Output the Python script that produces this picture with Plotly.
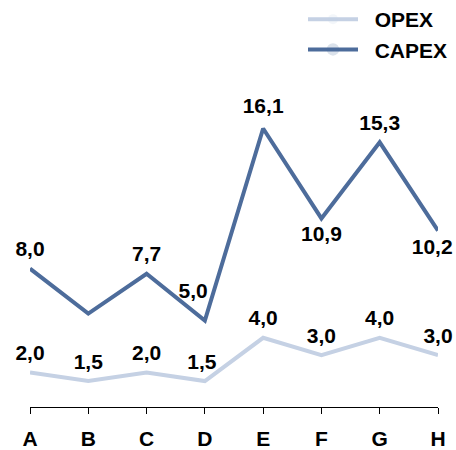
import plotly.graph_objects as go

categories = ["A", "B", "C", "D", "E", "F", "G", "H"]
opex = [2.0, 1.5, 2.0, 1.5, 4.0, 3.0, 4.0, 3.0]
capex = [8.0, 5.4, 7.7, 5.0, 16.1, 10.9, 15.3, 10.2]
capex_show_label = [True, False, True, True, True, True, True, True]
capex_label_pos = ["top center", "top center", "top center", "top center",
                   "top center", "bottom center", "top center", "bottom center"]
# trailing non-breaking spaces nudge a centred label to the left
opex_label_pad = [0, 0, 0, 1, 0, 0, 0, 0]
capex_label_pad = [0, 0, 0, 4, 0, 0, 0, 2]

NBSP = "\u00a0"

def fmt(v, pad=0):
    return f"{v:.1f}".replace(".", ",") + NBSP * pad

opex_text = [fmt(v, p) for v, p in zip(opex, opex_label_pad)]
capex_text = [fmt(v, p) if s else "" for v, s, p in zip(capex, capex_show_label, capex_label_pad)]

FONT = "Liberation Sans, Arial, sans-serif"
FS = 21

# invisible markers only used to space the value labels from the line
opex_msize = [10] * 8
capex_msize = [10, 10, 10, 26, 14, 10, 10, 10]

fig = go.Figure()
fig.add_trace(go.Scatter(
    x=categories, y=opex, name=NBSP * 2 + "OPEX", mode="lines+markers+text",
    line=dict(color="#C5D1E4", width=4),
    marker=dict(size=opex_msize, opacity=0, line=dict(width=0)),
    text=opex_text, textposition="top center",
    textfont=dict(family=FONT, size=FS, color="black", weight="bold"),
    cliponaxis=False,
))
fig.add_trace(go.Scatter(
    x=categories, y=capex, name=NBSP * 2 + "CAPEX", mode="lines+markers+text",
    line=dict(color="#4D6C9B", width=4),
    marker=dict(size=capex_msize, opacity=0, line=dict(width=0)),
    text=capex_text, textposition=capex_label_pos,
    textfont=dict(family=FONT, size=FS, color="black", weight="bold"),
    cliponaxis=False,
))

fig.update_layout(
    width=456, height=450,
    margin=dict(l=30, r=18, t=61, b=43, autoexpand=False),
    paper_bgcolor="white", plot_bgcolor="white",
    font=dict(family=FONT, size=FS, color="black"),
    legend=dict(
        xref="container", yref="paper",
        x=303 / 456, y=1 + 62 / 346, xanchor="left", yanchor="top",
        font=dict(family=FONT, size=FS, color="black", weight="bold"),
        itemwidth=50, bgcolor="rgba(0,0,0,0)",
        tracegroupgap=0,
    ),
    xaxis=dict(
        type="category", range=[0, 7], showgrid=False, zeroline=False,
        showline=True, linecolor="black", linewidth=1,
        ticks="outside", ticklen=6, tickcolor="black", tickwidth=1,
        ticklabelstandoff=7,
        tickfont=dict(family=FONT, size=FS, color="black", weight="bold"),
    ),
    yaxis=dict(range=[0, 20], visible=False, showgrid=False, zeroline=False),
    showlegend=True,
)

# place the figure at the top-left corner of the page (no default body margin)
fig.write_html(
    "out.html",
    config={"displayModeBar": False},
    post_script="document.body.style.margin='0';",
)
